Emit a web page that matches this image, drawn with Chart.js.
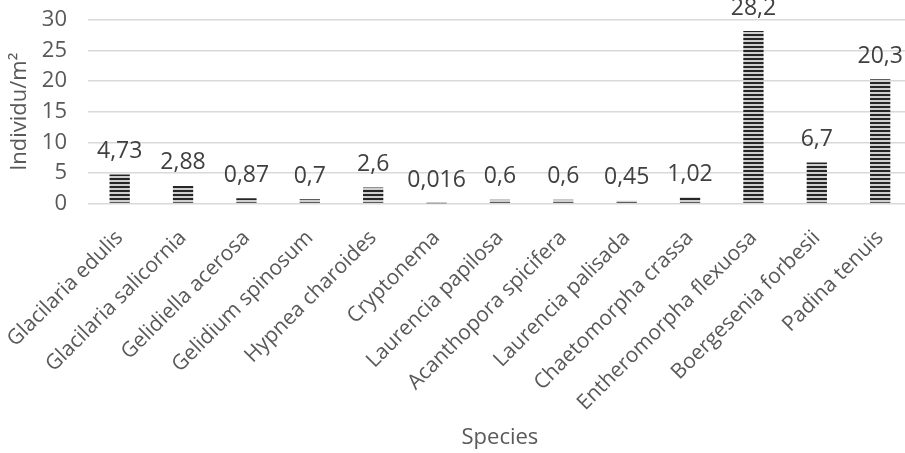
<!DOCTYPE html>
<html>
<head>
<meta charset="utf-8">
<script src="https://cdn.jsdelivr.net/npm/chart.js@4"></script>
<style>
  html, body { margin: 0; padding: 0; background: #fff; overflow: hidden; }
  /* plot area runs slightly past the right edge, as in the source image */
  #wrap { width: 912px; height: 453px; }
</style>
</head>
<body>
<div id="wrap"><canvas id="chart"></canvas></div>
<script>
// data
const species = [
    'Glacilaria edulis', 'Glacilaria salicornia', 'Gelidiella acerosa', 'Gelidium spinosum',
    'Hypnea charoides', 'Cryptonema', 'Laurencia papilosa', 'Acanthopora spicifera',
    'Laurencia palisada', 'Chaetomorpha crassa', 'Entheromorpha flexuosa',
    'Boergesenia forbesii', 'Padina tenuis'
];
const density = [4.73, 2.88, 0.87, 0.7, 2.6, 0.016, 0.6, 0.6, 0.45, 1.02, 28.2, 6.7, 20.3];
const yTicks = [0, 5, 10, 15, 20, 25, 30];

const FONT = "'Open Sans', sans-serif";
const TEXT = '#595959';

// striped fill (horizontal lines)
function makeStripes() {
    const c = document.createElement('canvas');
    c.width = 4; c.height = 4;
    const g = c.getContext('2d');
    g.fillStyle = '#cfcfcf';
    g.fillRect(0, 0, 4, 4);
    g.fillStyle = '#262626';
    g.fillRect(0, 2, 4, 2);
    return g.createPattern(c, 'repeat');
}

// value labels above bars, decimal comma
const valueLabels = {
    id: 'valueLabels',
    afterDatasetsDraw(chart) {
        const ctx = chart.ctx;
        const meta = chart.getDatasetMeta(0);
        ctx.save();
        ctx.font = '23px ' + FONT;
        ctx.fillStyle = '#404040';
        ctx.textAlign = 'center';
        ctx.textBaseline = 'middle';
        meta.data.forEach((bar, i) => {
            const txt = String(density[i]).replace('.', ',');
            ctx.fillText(txt, bar.x, bar.y - 23);
        });
        ctx.restore();
    }
};

const ctx = document.getElementById('chart').getContext('2d');
new Chart(ctx, {
    type: 'bar',
    data: {
        labels: species,
        datasets: [{
            data: density,
            backgroundColor: makeStripes(),
            borderWidth: 0,
            categoryPercentage: 1,
            barPercentage: 0.32
        }]
    },
    plugins: [valueLabels],
    options: {
        responsive: true,
        maintainAspectRatio: false,
        animation: false,
        layout: { padding: { top: 20, right: 0, left: 7, bottom: 0 } },
        plugins: { legend: { display: false }, tooltip: { enabled: false } },
        scales: {
            x: {
                grid: { display: false },
                border: { display: false },
                // labels stay next to the axis, extra room above the title;
                // rotated first label may hang left over the y axis
                afterFit: (scale) => {
                    scale.height += 33;
                    scale.paddingLeft = 0;
                },
                ticks: {
                    color: TEXT,
                    font: { family: FONT, size: 21 },
                    minRotation: 45, maxRotation: 45,
                    autoSkip: false,
                    padding: 14
                },
                title: {
                    display: true, text: 'Species', color: TEXT,
                    font: { family: FONT, size: 22 },
                    padding: { top: 4, bottom: 2 }
                }
            },
            y: {
                min: 0, max: 30,
                afterBuildTicks: (axis) => { axis.ticks = yTicks.map(v => ({ value: v })); },
                afterFit: (scale) => {
                    scale.paddingTop = 0;
                    scale.width = 81;
                },
                grid: { color: '#d9d9d9', lineWidth: 1.5, drawTicks: false },
                border: { display: false },
                ticks: {
                    color: TEXT,
                    font: { family: FONT, size: 22 },
                    autoSkip: false,
                    padding: 21
                },
                title: {
                    display: true, text: 'Individu/m²', color: TEXT,
                    font: { family: FONT, size: 22 },
                    padding: { top: 0, bottom: 10 }
                }
            }
        }
    }
});
</script>
</body>
</html>
